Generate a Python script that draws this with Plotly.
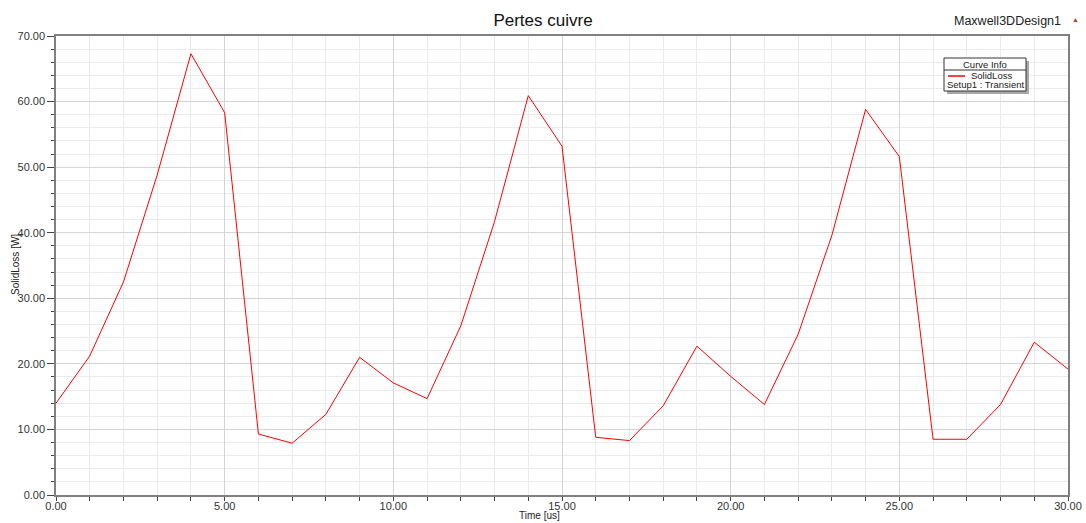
import plotly.graph_objects as go

time_us = [0, 1, 2, 3, 4, 5, 6, 7, 8, 9, 10,
           11, 12, 13, 14, 15, 16, 17, 18, 19, 20,
           21, 22, 23, 24, 25, 26, 27, 28, 29, 30]
solid_loss = [14.0, 21.2, 32.5, 48.8, 67.3, 58.3, 9.3, 7.9, 12.3, 21.0, 17.1,
              14.7, 25.8, 41.7, 60.9, 53.2, 8.8, 8.3, 13.6, 22.7, 18.1,
              13.8, 24.5, 39.6, 58.8, 51.6, 8.5, 8.5, 13.8, 23.3, 19.2]

W, H = 1086, 523
L, R, T, B = 56, 18, 36, 28
FONT = "Liberation Sans, Arial, sans-serif"


def px(x, y):
    """pixel -> coordonnées paper"""
    return (x - L) / (W - L - R), (H - B - y) / (H - T - B)


fig = go.Figure()
fig.add_trace(go.Scatter(
    x=time_us, y=solid_loss, mode="lines",
    line=dict(color="#ff0000", width=1),
    name="SolidLoss", showlegend=False,
))

axis_common = dict(
    showline=True, linecolor="#808080", linewidth=1.5, mirror=True,
    ticks="outside", tickcolor="#444", tickformat=".2f",
    tickfont=dict(family=FONT, size=11, color="#333"),
    zeroline=False, gridcolor="#d4d4d4", gridwidth=1,
    automargin=False,
)

fig.update_xaxes(
    range=[0, 30], dtick=5, tick0=0, ticklen=4, ticklabelstandoff=-4,
    minor=dict(dtick=1, ticklen=4, tickcolor="#444", showgrid=True,
               gridcolor="#ebebeb", ticks="outside"),
    **axis_common,
)
fig.update_yaxes(
    range=[0, 70], dtick=10, tick0=0, ticklen=7,
    minor=dict(dtick=2, ticklen=3, tickcolor="#444", showgrid=True,
               gridcolor="#ebebeb", ticks="outside"),
    **axis_common,
)

# ── cadre "Curve Info" ──────────────────────────────────────────────────────
shapes = []
x0, y0 = px(947, 61)
x1, y1 = px(1029, 94)
shapes.append(dict(type="rect", xref="paper", yref="paper", x0=x0, y0=y1, x1=x1, y1=y0,
                   fillcolor="#a8a8a8", line=dict(width=0), layer="above"))
x0, y0 = px(944, 58)
x1, y1 = px(1026, 91)
shapes.append(dict(type="rect", xref="paper", yref="paper", x0=x0, y0=y1, x1=x1, y1=y0,
                   fillcolor="white", line=dict(color="#333", width=1), layer="above"))
sx0, sy = px(944, 70)
sx1, _ = px(1026, 70)
shapes.append(dict(type="line", xref="paper", yref="paper", x0=sx0, y0=sy, x1=sx1, y1=sy,
                   line=dict(color="#333", width=1), layer="above"))
lx0, ly = px(948, 76)
lx1, _ = px(965, 76)
shapes.append(dict(type="line", xref="paper", yref="paper", x0=lx0, y0=ly, x1=lx1, y1=ly,
                   line=dict(color="#ff0000", width=1.5), layer="above"))

annotations = []


def note(text, x, y, size, **kw):
    ax, ay = px(x, y)
    color = kw.pop("color", "#222")
    annotations.append(dict(text=text, x=ax, y=ay, xref="paper", yref="paper",
                            xanchor="center", yanchor="middle",
                            showarrow=False,
                            font=dict(family=FONT, size=size, color=color),
                            **kw))


note("Curve Info", 985, 64, 9.5)
note("SolidLoss", 991, 76, 9.5)
note("Setup1 : Transient", 985.5, 84.5, 9.5)
note("Maxwell3DDesign1", 1007, 21, 12.5)
note("▲", 1075, 20, 7, color="#c0392b")
note("Time [us]", 539, 515, 10)
note("SolidLoss [W]", 15, 265, 10, textangle=-90)

fig.update_layout(
    width=W, height=H,
    margin=dict(l=L, r=R, t=T, b=B),
    paper_bgcolor="white", plot_bgcolor="white",
    title=dict(text="Pertes cuivre", x=0.5, xref="container", xanchor="center",
               y=1 - 20.5 / H, yref="container", yanchor="middle",
               font=dict(family=FONT, size=17, color="#111")),
    shapes=shapes,
    annotations=annotations,
    showlegend=False,
)

# la page a une marge de 8px par défaut : on la supprime
fig.write_html("out.html", config={"displayModeBar": False},
               post_script="document.body.style.margin='0';")
